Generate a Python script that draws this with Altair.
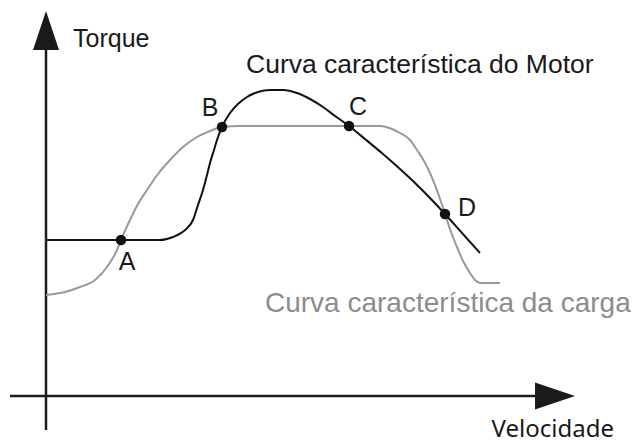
import altair as alt
import pandas as pd

# Motor characteristic curve (black) — velocity, torque
motor_v = [0, 54, 114, 127, 139, 147, 152, 157, 161, 164, 168, 171, 176, 184, 192, 201, 212, 224,
           237, 251, 264, 277, 289, 303, 319, 337, 354, 368, 384, 399, 416, 434]
motor_t = [156, 156, 156, 159, 166, 176, 191, 206, 221, 233, 246, 256, 269, 283, 292, 299, 304, 306,
           306, 303, 297, 289, 280, 270, 257, 242, 227, 214, 198, 182, 163, 143]

# Load characteristic curve (gray)
load_v = [0, 19, 34, 49, 61, 71, 75, 84, 92, 101, 112, 124, 137, 151, 164, 176, 194, 254, 334,
          346, 354, 364, 371, 378, 384, 392, 399, 405, 411, 417, 424, 429, 434, 454]
load_t = [101, 104, 109, 116, 129, 146, 156, 176, 192, 206, 222, 236, 249, 259, 265, 269, 270, 270, 270,
          267, 263, 256, 246, 235, 223, 203, 182, 164, 149, 135, 123, 116, 113, 113]

# Operating points
pt_names = ["A", "B", "C", "D"]
pt_v = [75, 176, 303, 399]
pt_t = [156, 269, 270, 182]
lab_v = [81, 164, 312, 421]
lab_t = [134, 288, 289, 188]

X_DOM = [-38, 588]
Y_DOM = [-49, 388]
xs = alt.Scale(domain=X_DOM, nice=False, zero=False)
ys = alt.Scale(domain=Y_DOM, nice=False, zero=False)

def X(f):
    return alt.X(f, type="quantitative", scale=xs, axis=None)

def Y(f):
    return alt.Y(f, type="quantitative", scale=ys, axis=None)

motor_df = pd.DataFrame({"v": motor_v, "t": motor_t, "i": range(len(motor_v))})
load_df = pd.DataFrame({"v": load_v, "t": load_t, "i": range(len(load_v))})
pts_df = pd.DataFrame({"v": pt_v, "t": pt_t})
labs_df = pd.DataFrame({"v": lab_v, "t": lab_t, "name": pt_names})

# Axes (arrows)
yaxis_df = pd.DataFrame({"v": [0, 0], "t": [-34, 346]})
xaxis_df = pd.DataFrame({"v": [-36, 489], "t": [0, 0]})
yhead_df = pd.DataFrame({"t": [346, 385], "a": [-13, 0], "b": [13, 0]})
xhead_df = pd.DataFrame({"v": [489, 529], "a": [-13.5, 0], "b": [13.5, 0]})

yaxis = alt.Chart(yaxis_df).mark_line(color="#1a1a1a", strokeWidth=2.5).encode(x=X("v"), y=Y("t"))
xaxis = alt.Chart(xaxis_df).mark_line(color="#1a1a1a", strokeWidth=2.5).encode(x=X("v"), y=Y("t"))
yhead = alt.Chart(yhead_df).mark_area(color="#1a1a1a", orient="horizontal", opacity=1).encode(
    y=Y("t"), x=X("a"), x2="b")
xhead = alt.Chart(xhead_df).mark_area(color="#1a1a1a", orient="vertical", opacity=1).encode(
    x=X("v"), y=Y("a"), y2="b")

load_line = alt.Chart(load_df).mark_line(color="#999999", strokeWidth=2, interpolate="monotone").encode(
    x=X("v"), y=Y("t"), order="i")
motor_line = alt.Chart(motor_df).mark_line(color="#111111", strokeWidth=2, interpolate="monotone").encode(
    x=X("v"), y=Y("t"), order="i")
dots = alt.Chart(pts_df).mark_circle(color="#111111", size=110, opacity=1).encode(x=X("v"), y=Y("t"))
labels = alt.Chart(labs_df).mark_text(font="Liberation Sans", fontSize=25, color="#1a1a1a",
                                      align="center", baseline="middle").encode(
    x=X("v"), y=Y("t"), text="name")

txt_df = pd.DataFrame({
    "v": [27, 200, 219],
    "t": [349, 323, 84],
    "s": ["Torque", "Curva característica do Motor", "Curva característica da carga"],
    "c": ["#1a1a1a", "#1a1a1a", "#8c8c8c"],
    "fs": [25, 26.5, 28],
})
texts = alt.Chart(txt_df).mark_text(font="Liberation Sans", align="left",
                                    baseline="alphabetic").encode(
    x=X("v"), y=Y("t"), text="s", color=alt.Color("c:N", scale=None),
    size=alt.Size("fs:Q", scale=None))
vel = alt.Chart(pd.DataFrame({"v": [568], "t": [-41], "s": ["Velocidade"]})).mark_text(
    font="Noto Sans", fontSize=24, align="right", baseline="alphabetic", color="#1a1a1a").encode(
    x=X("v"), y=Y("t"), text="s")

chart = alt.layer(yaxis, xaxis, yhead, xhead, load_line, motor_line, dots, labels, texts, vel).properties(
    width=626, height=437, padding=0, autosize="none"
).configure_view(stroke=None)

chart.save("out.html", embed_options={"renderer": "svg", "actions": False})
